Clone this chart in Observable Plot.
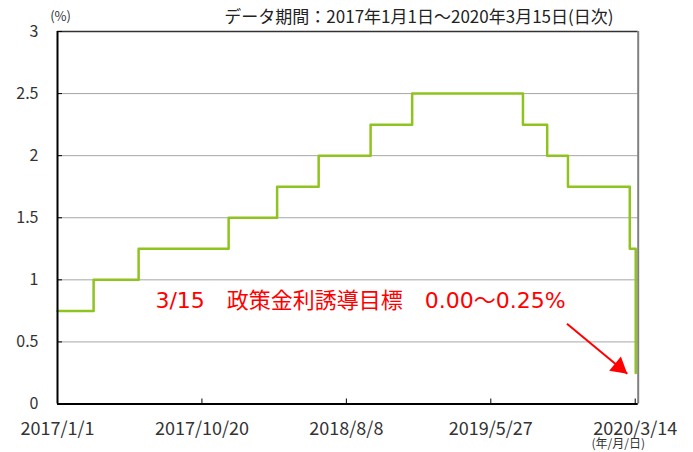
<!DOCTYPE html>
<html>
<head>
<meta charset="utf-8">
<script src="https://cdn.jsdelivr.net/npm/d3@7"></script>
<script src="https://cdn.jsdelivr.net/npm/@observablehq/plot@0.6"></script>
<style>
  html, body { margin: 0; padding: 0; background: #fff; }
  #chart svg { display: block; }
</style>
</head>
<body>
<div id="chart"></div>
<script>
// Policy rate (upper bound of target range), step changes, daily series
const changeDates = ["2017-01-01","2017-03-15","2017-06-14","2017-12-13","2018-03-21","2018-06-13","2018-09-26","2018-12-19","2019-07-31","2019-09-18","2019-10-30","2020-03-03","2020-03-15"];
const rates = [0.75, 1.0, 1.25, 1.5, 1.75, 2.0, 2.25, 2.5, 2.25, 2.0, 1.75, 1.25, 0.25];

const xDomain = ["2017-01-01", "2020-03-20"];
const xTickLabels = ["2017/1/1", "2017/10/20", "2018/8/8", "2019/5/27", "2020/3/14"];
const yTicks = [0, 0.5, 1, 1.5, 2, 2.5, 3];
const gridValues = [0.5, 1, 1.5, 2, 2.5];

const titleText = "データ期間：2017年1月1日～2020年3月15日(日次)";
const unitY = "(%)";
const unitX = "(年/月/日)";
const noteText = "3/15\u3000政策金利誘導目標\u30000.00～0.25%";
const noteAt = ["2017-07-18", 0.83];
const arrowFrom = ["2019-10-28", 0.646];
const arrowTo = ["2020-02-27", 0.243];

const parse = d3.utcParse("%Y-%m-%d");
const parseTick = d3.utcParse("%Y/%m/%d");
const series = changeDates.map((d, i) => ({date: parse(d), rate: rates[i]}));
const xTicks = xTickLabels.map(parseTick);
const fmtTick = d3.utcFormat("%Y/%-m/%-d");

const W = 693, H = 452;
const mL = 57, mR = 55.3, mT = 31, mB = 48.5;
const innerW = W - mL - mR, innerH = H - mT - mB;
const font = "'Noto Sans CJK JP', 'Noto Sans', sans-serif";

const plot = Plot.plot({
  width: W,
  height: H,
  marginLeft: mL,
  marginRight: mR,
  marginTop: mT,
  marginBottom: mB,
  style: {fontFamily: font, background: "#fff", color: "#333", overflow: "visible"},
  x: {type: "utc", domain: xDomain.map(parse), label: null},
  y: {domain: [0, 3], label: null},
  marks: [
    Plot.ruleY(gridValues, {stroke: "#a6a6a6", strokeWidth: 1}),
    Plot.line(series, {x: "date", y: "rate", curve: "step-after", stroke: "#8fc31f", strokeWidth: 2.5}),
    // frame
    Plot.ruleY([3], {stroke: "#333", strokeWidth: 1.5}),
    Plot.ruleX([parse(xDomain[1])], {stroke: "#808080", strokeWidth: 2}),
    Plot.ruleY([0], {stroke: "#000", strokeWidth: 2}),
    Plot.ruleX([parse(xDomain[0])], {stroke: "#000", strokeWidth: 2}),
    // inward ticks
    Plot.tickX(xTicks, {x: d => d, insetTop: innerH - 5, stroke: "#000", strokeWidth: 1}),
    Plot.tickY(yTicks, {y: d => d, insetRight: innerW - 5, stroke: "#000", strokeWidth: 1}),
    // axes labels
    Plot.axisY(yTicks, {anchor: "left", tickSize: 0, tickPadding: 19, fontSize: 16, fill: "#333", tickFormat: d => String(d), label: null}),
    Plot.axisX(xTicks, {anchor: "bottom", tickSize: 0, tickPadding: 18, fontSize: 18, fill: "#333", tickFormat: fmtTick, label: null}),
    // titles
    Plot.text([titleText], {frameAnchor: "top-right", text: d => d, textAnchor: "end", lineAnchor: "middle", dx: -24.7, dy: -14, fontSize: 17, fill: "#222"}),
    Plot.text([unitY], {frameAnchor: "top-left", text: d => d, textAnchor: "middle", lineAnchor: "middle", dx: 3, dy: -14.5, fontSize: 13, fill: "#333"}),
    Plot.text([unitX], {frameAnchor: "bottom-right", text: d => d, textAnchor: "start", lineAnchor: "middle", dx: -46.7, dy: 40.5, fontSize: 12, fill: "#333"}),
    // annotation
    Plot.text([noteText], {x: () => parse(noteAt[0]), y: () => noteAt[1], text: d => d, textAnchor: "start", lineAnchor: "middle", fontSize: 22, fill: "#ff0000", fontFamily: "'DejaVu Sans', 'Noto Sans CJK JP', sans-serif"}),
    Plot.link([0], {x1: () => parse(arrowFrom[0]), y1: () => arrowFrom[1], x2: () => parse(arrowTo[0]), y2: () => arrowTo[1], stroke: "#ff0000", strokeWidth: 2}),
    Plot.dot([0], {x: () => parse(arrowTo[0]), y: () => arrowTo[1], symbol: "triangle", r: 6.8, rotate: 129.8, dx: -8.2, dy: -6.8, fill: "#ff0000", stroke: "none"})
  ]
});
document.getElementById("chart").appendChild(plot);
</script>
</body>
</html>
